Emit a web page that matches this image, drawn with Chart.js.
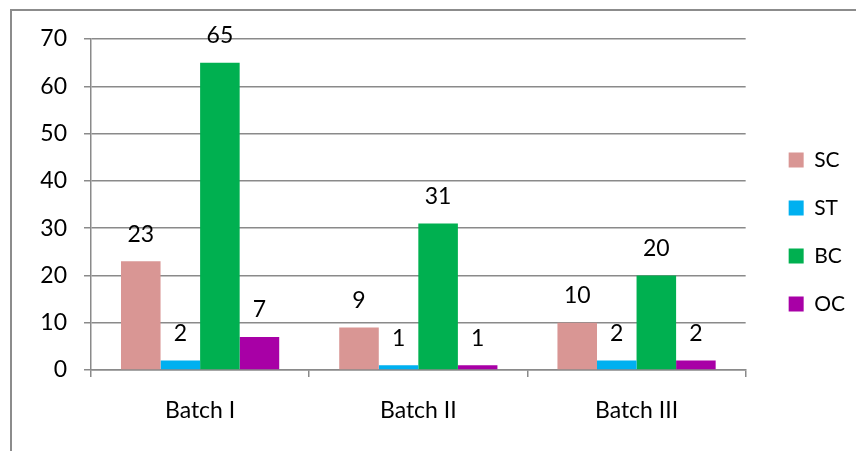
<!DOCTYPE html>
<html>
<head>
<meta charset="utf-8">
<script src="https://cdn.jsdelivr.net/npm/chart.js@4/dist/chart.umd.min.js"></script>
<style>
  html, body { margin: 0; padding: 0; background: #fff; }
  body { width: 856px; height: 451px; position: relative; overflow: hidden; }
  #frame {
    position: absolute; left: 10px; top: 9px; width: 900px; height: 500px;
    border-top: 2px solid #8c8c8c; border-left: 2px solid #8c8c8c;
  }
  #wrap { position: absolute; left: 0; top: 0; width: 856px; height: 451px; }
</style>
</head>
<body>
<div id="frame"></div>
<div id="wrap"><canvas id="chart" width="856" height="451"></canvas></div>
<script>
const categories = ["Batch I", "Batch II", "Batch III"];
const seriesNames = ["SC", "ST", "BC", "OC"];
const scValues = [23, 9, 10];
const stValues = [2, 1, 2];
const bcValues = [65, 31, 20];
const ocValues = [7, 1, 2];
const yTicks = [0, 10, 20, 30, 40, 50, 60, 70];

const colors = ["#D99694", "#00B0F0", "#00B050", "#A800A6"];
const gridColor = "#8a8a8a";
const fontFamily = "Lato, 'Open Sans', sans-serif";

// value labels above each bar
const valueLabels = {
  id: "valueLabels",
  afterDatasetsDraw(chart) {
    const ctx = chart.ctx;
    ctx.save();
    ctx.font = "23px " + fontFamily;
    ctx.fillStyle = "#000";
    ctx.textAlign = "center";
    ctx.textBaseline = "middle";
    chart.data.datasets.forEach((ds, i) => {
      chart.getDatasetMeta(i).data.forEach((bar, j) => {
        ctx.fillText(String(ds.data[j]), bar.x, bar.y - 27);
      });
    });
    ctx.restore();
  }
};

const seriesValues = [scValues, stValues, bcValues, ocValues];

new Chart(document.getElementById("chart"), {
  type: "bar",
  data: {
    labels: categories,
    datasets: seriesNames.map((name, i) => ({
      label: name,
      data: seriesValues[i],
      backgroundColor: colors[i],
      borderWidth: 0,
      categoryPercentage: 0.725,
      barPercentage: 1.0
    }))
  },
  options: {
    responsive: false,
    animation: false,
    layout: { padding: { top: 39, left: 0, right: 1, bottom: 0 } },
    plugins: {
      tooltip: { enabled: false },
      legend: {
        position: "right",
        fullSize: false,
        title: { display: true, text: "", font: { size: 10, lineHeight: 1 }, padding: { top: 0, bottom: 45 } },
        labels: {
          boxWidth: 15,
          boxHeight: 15,
          padding: 27,
          color: "#000",
          font: { family: fontFamily, size: 21 }
        }
      }
    },
    scales: {
      x: {
        grid: { display: true, drawOnChartArea: false, drawTicks: true, tickLength: 7, color: gridColor, lineWidth: 1.5 },
        border: { display: true, color: gridColor, width: 1.5 },
        ticks: { color: "#000", padding: 20, font: { family: fontFamily, size: 23 } },
        afterFit: (s) => { s.height = 81; }
      },
      y: {
        min: 0,
        max: 70,
        afterBuildTicks: (s) => { s.ticks = yTicks.map(v => ({ value: v })); },
        grid: { color: gridColor, lineWidth: 1.5, tickLength: 7 },
        border: { display: true, color: gridColor, width: 1.5 },
        ticks: { color: "#000", padding: 17, autoSkip: false, font: { family: fontFamily, size: 23 } },
        afterFit: (s) => { s.width = 91; }
      },
      spacer: {
        type: "linear",
        position: "right",
        display: true,
        grid: { display: false },
        border: { display: false },
        ticks: { display: false },
        afterFit: (s) => { s.width = 16; }
      }
    }
  },
  plugins: [valueLabels]
});
</script>
</body>
</html>
